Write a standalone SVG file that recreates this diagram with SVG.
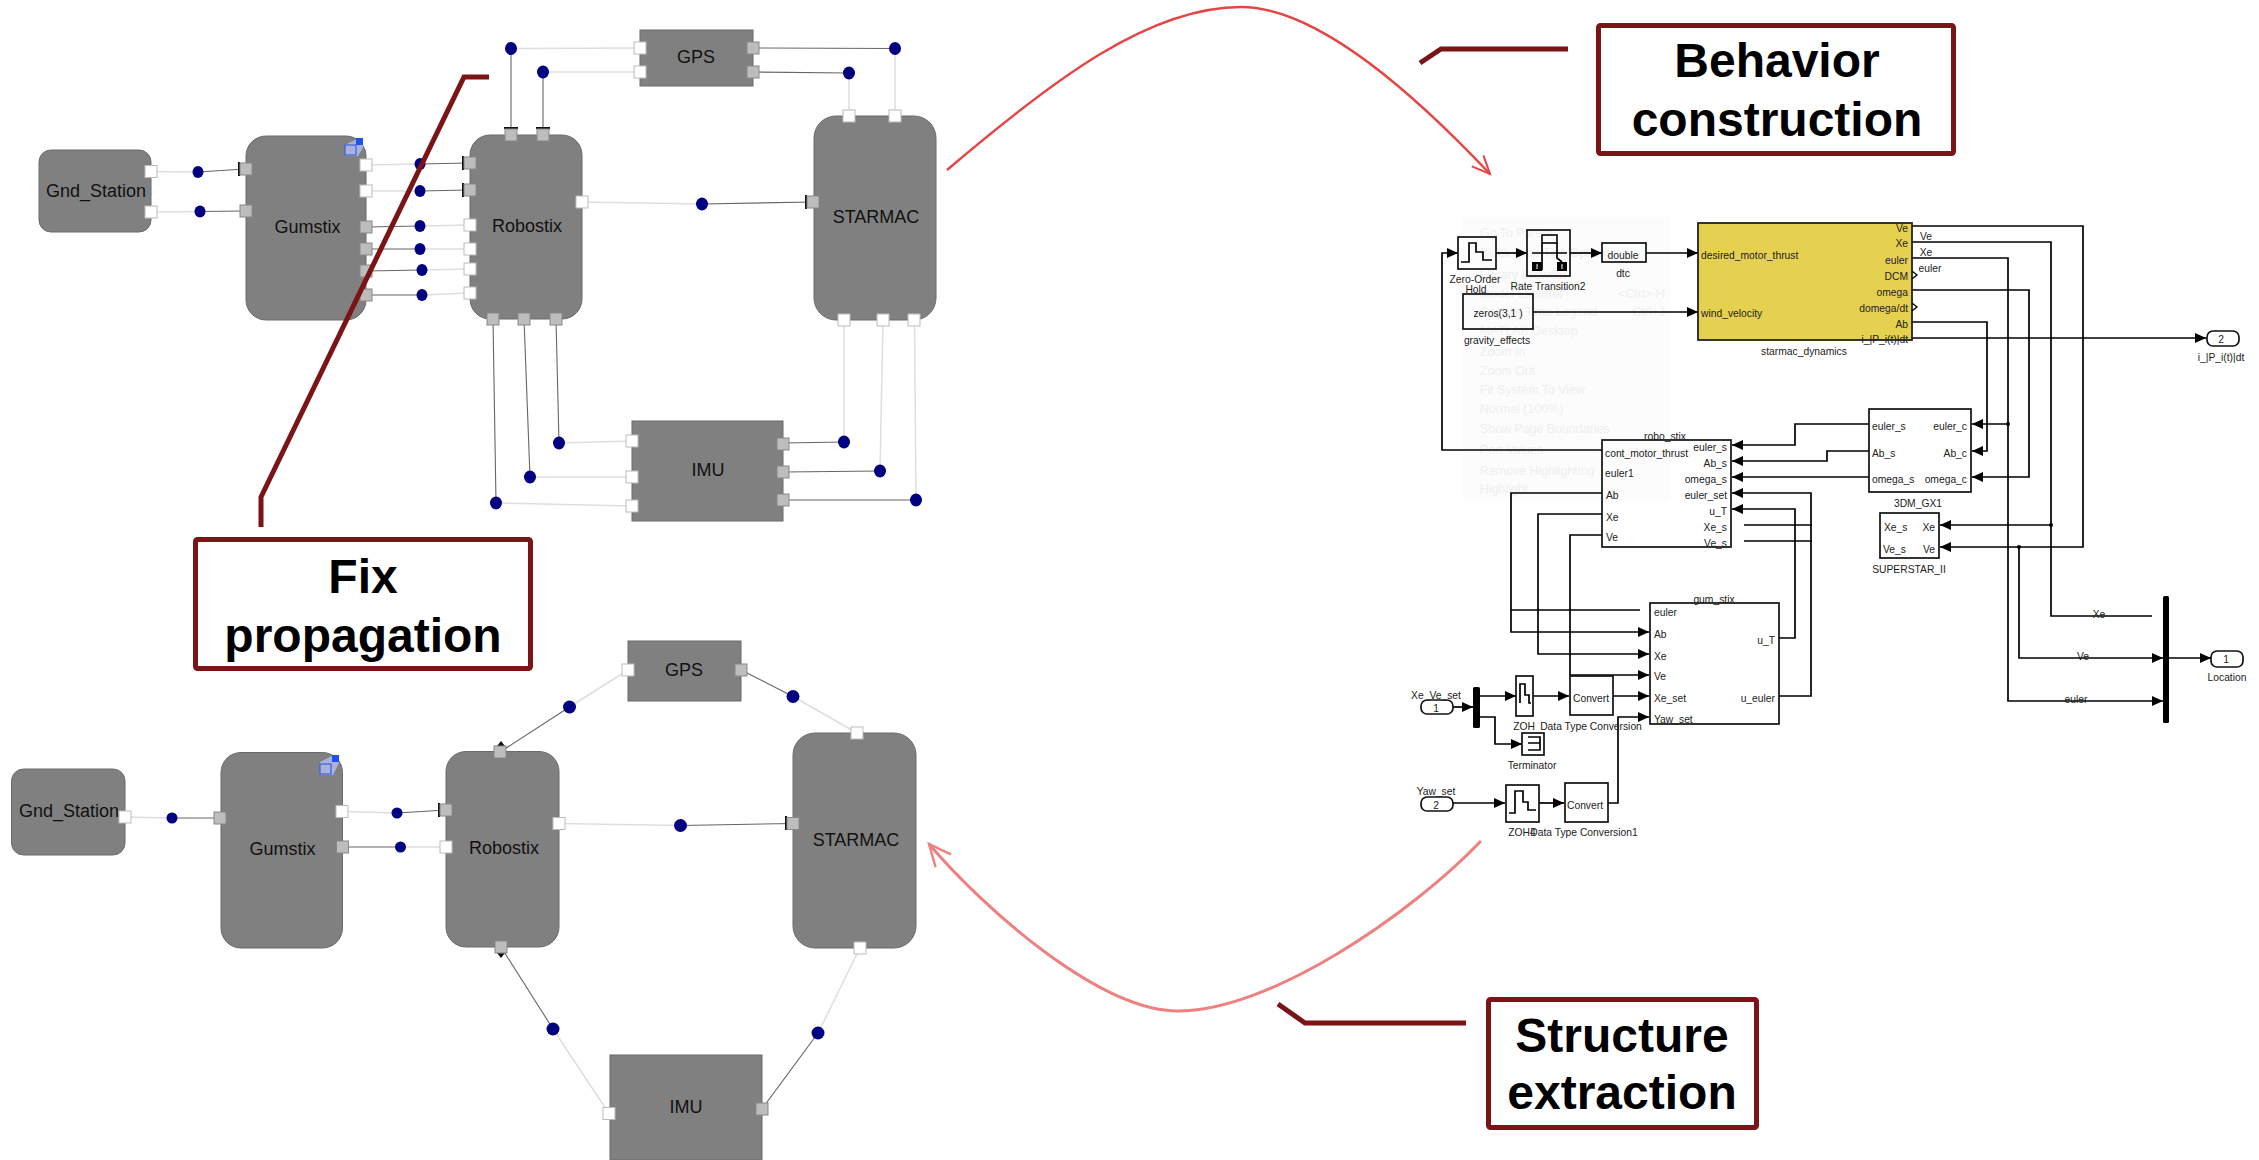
<svg xmlns="http://www.w3.org/2000/svg" width="2259" height="1160" viewBox="0 0 2259 1160">
<style>
text{font-family:"Liberation Sans",Arial,sans-serif}
.n{fill:#808080;stroke:#6a6a6a;stroke-width:1}
.t{font-size:18px;fill:#111;text-anchor:middle}
.pw{fill:#fff;stroke:#bbb;stroke-width:1}
.pg{fill:#bdbdbd;stroke:#888;stroke-width:1}
.bar{fill:#111}
.d{fill:#000080}
.lt{fill:none;stroke:#dedede;stroke-width:1.5}
.dk{fill:none;stroke:#666;stroke-width:1.1}
.w{fill:none;stroke:#000;stroke-width:1.7}
.wa{fill:none;stroke:#000;stroke-width:1.7;marker-end:url(#tri)}
.b{fill:none;stroke:#111;stroke-width:1.7}
.s{font-size:10.3px;fill:#222}
.m{text-anchor:middle}
.r{text-anchor:end}
.box{fill:#fff;stroke:#7b1416;stroke-width:5}
.big{font-size:48px;font-weight:bold;fill:#000;text-anchor:middle}
.lead{fill:none;stroke:#7b1416;stroke-width:5}
.gh{font-size:12.4px;fill:#efefef}
</style>
<defs>
<marker id="tri" markerUnits="userSpaceOnUse" markerWidth="11" markerHeight="10" refX="11" refY="5" orient="auto"><path d="M0 0L11 5L0 10Z" fill="#000"/></marker>
<marker id="ra" markerUnits="userSpaceOnUse" markerWidth="24" markerHeight="24" refX="20" refY="12" orient="auto"><path d="M2 4L20 12L2 20" fill="none" stroke="#e64545" stroke-width="2"/></marker>
<marker id="rb" markerUnits="userSpaceOnUse" markerWidth="28" markerHeight="28" refX="24" refY="14" orient="auto"><path d="M2 4L24 14L2 24" fill="none" stroke="#ee8080" stroke-width="2.4"/></marker>
</defs>
<rect width="2259" height="1160" fill="#fff"/>

<g id="menu-ghost">
<rect x="1463" y="217" width="207" height="283" fill="#fcfcfc"/>
<text class="gh" x="1480" y="237">Go To Parent</text>
<text class="gh" x="1480" y="257">Block Data Tips Options</text>
<text class="gh" x="1480" y="279">Library Browser</text>
<text class="gh" x="1480" y="298">Model Explorer</text>
<text class="gh r" x="1665" y="298">&lt;Ctrl&gt;-H</text>
<text class="gh" x="1480" y="316">Sample Time Legend</text>
<text class="gh r" x="1665" y="316">Ctrl+J</text>
<text class="gh" x="1480" y="335">MATLAB Desktop</text>
<text class="gh" x="1480" y="356">Zoom In</text>
<text class="gh" x="1480" y="375">Zoom Out</text>
<text class="gh" x="1480" y="394">Fit System To View</text>
<text class="gh" x="1480" y="413">Normal (100%)</text>
<text class="gh" x="1480" y="433">Show Page Boundaries</text>
<text class="gh" x="1480" y="454">Port Values</text>
<text class="gh" x="1480" y="475">Remove Highlighting</text>
<text class="gh" x="1480" y="493">Highlight</text>
</g>

<g id="connectors">
<!-- top graph -->
<path class="lt" d="M151 171.5L198 172M151 212L200 211.5M366 165L420 164M366 191L420 191M420 226L469 225M420 249L469 249M422 270L469 269M422 295L469 293M581 202L702 204M640 48L511 48.5M640 72L543 72M895 48.5L895 116M849 73L849 116M496 503L632 506M530 477L632 477M559 443L632 441M844 442L844 320M880 471L883 320M916 500L914.5 320"/>
<path class="dk" d="M198 172L245 169M200 211.5L245 211M420 164L469 163M420 191L469 190M366 227L420 226M366 249L420 249M366 271L422 270M366 295L422 295M702 204L813 202M511 48.5L511 134M543 72L543 134M753 48L895 48.5M753 72L849 73M493 319L496 503M524 319L530 477M556 319L559 443M783 443L844 442M783 472L880 471M783 500L916 500"/>
<!-- bottom graph -->
<path class="lt" d="M125 817L172 818M342 811.5L397 813M400.5 847L446 847M559 823.5L680.5 825.5M628 670L569.5 707M793 696.5L857 733M553 1029L609 1113.5M818 1033L860 948"/>
<path class="dk" d="M172 818L220 818M397 813L446 810M342.5 847L400.5 847M680.5 825.5L793 823.5M569.5 707L500 752M741 670L793 696.5M501 947L553 1029M762 1109L818 1033"/>
<!-- simulink wires -->
<path class="wa" d="M1602 450H1442V253H1458"/>
<path class="wa" d="M1496 253H1527"/>
<path class="wa" d="M1570 253H1602"/>
<path class="wa" d="M1646 253H1698"/>
<path class="wa" d="M1533 312H1698"/>
<path class="wa" d="M1912 226H2083V547H1940"/>
<path class="w" d="M1912 242H2051V616H2152"/>
<path class="wa" d="M2051 525H1940"/>
<path class="wa" d="M1912 258H2008V701H2163"/>
<path class="wa" d="M2008 424H1972"/>
<path class="wa" d="M1912 290H2029V477H1972"/>
<path class="wa" d="M1912 322H1987V451H1972"/>
<path class="wa" d="M1912 338H2206"/>
<path class="wa" d="M2019 547V658H2163"/>
<path class="wa" d="M2169 658H2211"/>
<path class="wa" d="M1869 424H1795V445H1732"/>
<path class="wa" d="M1869 451H1827V461H1732"/>
<path class="wa" d="M1869 477H1732"/>
<path class="wa" d="M1779 696H1811V493H1732"/>
<path class="wa" d="M1779 638H1795V509H1732"/>
<path class="w" d="M1744 525H1812M1744 541H1812"/>
<path class="wa" d="M1602 493H1511V632H1649"/>
<path class="w" d="M1511 610H1640"/>
<path class="wa" d="M1602 514H1538V654H1649"/>
<path class="wa" d="M1602 535H1570V675H1649"/>
<path class="wa" d="M1453 707H1473"/>
<path class="wa" d="M1480 696H1516"/>
<path class="wa" d="M1533 696H1569"/>
<path class="wa" d="M1613 696H1649"/>
<path class="wa" d="M1480 717H1495V744H1522"/>
<path class="wa" d="M1453 803H1505"/>
<path class="wa" d="M1539 803H1564"/>
<path class="wa" d="M1608 803H1618V717H1649"/>
<circle cx="2051" cy="525" r="2"/><circle cx="2008" cy="424" r="2"/><circle cx="2019" cy="547" r="2"/>
<!-- workflow arcs -->
<path d="M947 170C1055 78 1150 7 1241 7C1320 7 1420 100 1490 174" fill="none" stroke="#e64545" stroke-width="2.4" marker-end="url(#ra)"/>
<path d="M1481 841C1410 915 1270 1011 1178 1011C1100 1011 985 910 929 844" fill="none" stroke="#ee8080" stroke-width="3" marker-end="url(#rb)"/>
</g>

<!-- top graph nodes -->
<g id="top-gnd-station"><rect class="n" x="39" y="150" width="112" height="82" rx="12"/><text class="t" x="96" y="197">Gnd_Station</text>
<rect class="pw" x="145" y="165.500" width="12" height="12"/><rect class="pw" x="145" y="206" width="12" height="12"/><ellipse class="d" cx="198" cy="172" rx="5.500" ry="6"/><ellipse class="d" cx="200" cy="211.500" rx="5.500" ry="6"/></g>
<g id="top-gumstix"><rect class="n" x="246" y="136" width="120" height="184" rx="20"/><text class="t" x="307.500" y="233">Gumstix</text>
<path d="M345 145L359 138L364 146L358 156H345Z" fill="#a9b2dc"/><rect x="345" y="145" width="11" height="10" fill="none" stroke="#3c5fe0" stroke-width="1.200"/><rect x="356" y="138" width="7" height="7" fill="#2050f0"/>
<rect class="bar" x="238" y="162" width="2" height="14"/><rect class="pg" x="240" y="163" width="12" height="12"/><rect class="pg" x="240" y="205" width="12" height="12"/>
<rect class="pw" x="360" y="159" width="12" height="12"/><rect class="pw" x="360" y="185" width="12" height="12"/><rect class="pg" x="360" y="221" width="12" height="12"/><rect class="pg" x="360" y="243" width="12" height="12"/><rect class="pg" x="360" y="265" width="12" height="12"/><rect class="pg" x="360" y="289" width="12" height="12"/>
<ellipse class="d" cx="420" cy="164" rx="5.500" ry="6"/><ellipse class="d" cx="420" cy="191" rx="5.500" ry="6"/><ellipse class="d" cx="420" cy="226" rx="5.500" ry="6"/><ellipse class="d" cx="420" cy="249" rx="5.500" ry="6"/><ellipse class="d" cx="422" cy="270" rx="5.500" ry="6"/><ellipse class="d" cx="422" cy="295" rx="5.500" ry="6"/></g>
<g id="top-robostix"><rect class="n" x="470" y="135" width="112" height="184" rx="20"/><text class="t" x="527" y="232">Robostix</text>
<rect class="bar" x="462" y="156" width="2" height="14"/><rect class="pg" x="464" y="157" width="12" height="12"/><rect class="bar" x="462" y="183" width="2" height="14"/><rect class="pg" x="464" y="184" width="12" height="12"/>
<rect class="pw" x="464" y="219" width="12" height="12"/><rect class="pw" x="464" y="243" width="12" height="12"/><rect class="pw" x="464" y="263" width="12" height="12"/><rect class="pw" x="464" y="287" width="12" height="12"/>
<rect class="pw" x="576" y="196" width="12" height="12"/>
<rect class="bar" x="504" y="127" width="14" height="2"/><rect class="pg" x="505" y="129" width="12" height="12"/><rect class="bar" x="536" y="127" width="14" height="2"/><rect class="pg" x="537" y="129" width="12" height="12"/>
<rect class="pg" x="487" y="313" width="12" height="12"/><rect class="pg" x="518" y="313" width="12" height="12"/><rect class="pg" x="550" y="313" width="12" height="12"/>
<ellipse class="d" cx="702" cy="204" rx="6" ry="6.500"/></g>
<g id="top-gps"><rect class="n" x="640" y="30" width="113" height="56"/><text class="t" x="696" y="63">GPS</text>
<rect class="pw" x="634" y="42" width="12" height="12"/><rect class="pw" x="634" y="66" width="12" height="12"/><rect class="pg" x="747" y="42" width="12" height="12"/><rect class="pg" x="747" y="66" width="12" height="12"/>
<ellipse class="d" cx="511" cy="48.500" rx="6" ry="6.500"/><ellipse class="d" cx="543" cy="72" rx="6" ry="6.500"/><ellipse class="d" cx="895" cy="48.500" rx="6" ry="6.500"/><ellipse class="d" cx="849" cy="73" rx="6" ry="6.500"/></g>
<g id="top-starmac"><rect class="n" x="814" y="116" width="122" height="204" rx="22"/><text class="t" x="876" y="223">STARMAC</text>
<rect class="pw" x="843" y="110" width="12" height="12"/><rect class="pw" x="889" y="110" width="12" height="12"/><rect class="pw" x="838" y="314" width="12" height="12"/><rect class="pw" x="877" y="314" width="12" height="12"/><rect class="pw" x="908" y="314" width="12" height="12"/>
<rect class="bar" x="805" y="195" width="2" height="14"/><rect class="pg" x="807" y="196" width="12" height="12"/></g>
<g id="top-imu"><rect class="n" x="632" y="421" width="151" height="100"/><text class="t" x="708" y="476">IMU</text>
<rect class="pw" x="626" y="435" width="12" height="12"/><rect class="pw" x="626" y="471" width="12" height="12"/><rect class="pw" x="626" y="500" width="12" height="12"/>
<rect class="pg" x="777" y="438" width="12" height="12"/><rect class="pg" x="777" y="466" width="12" height="12"/><rect class="pg" x="777" y="494" width="12" height="12"/>
<ellipse class="d" cx="559" cy="443" rx="6" ry="6.500"/><ellipse class="d" cx="530" cy="477" rx="6" ry="6.500"/><ellipse class="d" cx="496" cy="503" rx="6" ry="6.500"/><ellipse class="d" cx="844" cy="442" rx="6" ry="6.500"/><ellipse class="d" cx="880" cy="471" rx="6" ry="6.500"/><ellipse class="d" cx="916" cy="500" rx="6" ry="6.500"/></g>

<!-- bottom graph nodes -->
<g id="bot-gnd-station"><rect class="n" x="11.500" y="769" width="113.500" height="86" rx="12"/><text class="t" x="69" y="817">Gnd_Station</text><rect class="pw" x="119" y="811" width="12" height="12"/><ellipse class="d" cx="172" cy="818" rx="5.500" ry="5.500"/></g>
<g id="bot-gumstix"><rect class="n" x="221" y="752.500" width="121.500" height="195.500" rx="20"/><text class="t" x="282.500" y="855">Gumstix</text>
<path d="M320 762L334 755L339 763L333 775H320Z" fill="#a9b2dc"/><rect x="320" y="764" width="11" height="10" fill="none" stroke="#3c5fe0" stroke-width="1.200"/><rect x="332" y="755" width="7" height="7" fill="#2050f0"/>
<rect class="pg" x="214" y="812" width="12" height="12"/><rect class="pw" x="336" y="805.500" width="12" height="12"/><rect class="pg" x="336.500" y="841" width="12" height="12"/>
<ellipse class="d" cx="397" cy="813" rx="5.500" ry="5.500"/><ellipse class="d" cx="400.500" cy="847" rx="5.500" ry="5.500"/></g>
<g id="bot-robostix"><rect class="n" x="446" y="751.500" width="113" height="195.500" rx="20"/><text class="t" x="504" y="854">Robostix</text>
<rect class="bar" x="438" y="803" width="2" height="14"/><rect class="pg" x="440" y="804" width="12" height="12"/><rect class="pw" x="440" y="841" width="12" height="12"/><rect class="pw" x="553" y="817.500" width="12" height="12"/>
<path d="M497 746L501 741L505 746Z" fill="#111"/><rect class="pg" x="494" y="746" width="12" height="12"/><path d="M497 953L501 958L505 953Z" fill="#111"/><rect class="pg" x="495" y="941" width="12" height="12"/>
<ellipse class="d" cx="680.500" cy="825.500" rx="6.500" ry="6.500"/></g>
<g id="bot-gps"><rect class="n" x="628" y="641" width="113" height="60"/><text class="t" x="684" y="676">GPS</text><rect class="pw" x="622" y="664" width="12" height="12"/><rect class="pg" x="735" y="664" width="12" height="12"/><ellipse class="d" cx="569.500" cy="707" rx="6.500" ry="6.500"/><ellipse class="d" cx="793" cy="696.500" rx="6.500" ry="6.500"/></g>
<g id="bot-starmac"><rect class="n" x="793" y="733" width="123" height="215" rx="22"/><text class="t" x="856" y="846">STARMAC</text><rect class="pw" x="851" y="727" width="12" height="12"/><rect class="pw" x="854" y="942" width="12" height="12"/><rect class="bar" x="785" y="816" width="2" height="14"/><rect class="pg" x="787" y="817.500" width="12" height="12"/></g>
<g id="bot-imu"><rect class="n" x="610" y="1055" width="152" height="105"/><text class="t" x="686" y="1113">IMU</text><rect class="pw" x="603" y="1107.500" width="12" height="12"/><rect class="pg" x="756" y="1103" width="12" height="12"/><ellipse class="d" cx="553" cy="1029" rx="6.500" ry="6.500"/><ellipse class="d" cx="818" cy="1033" rx="6.500" ry="6.500"/></g>

<!-- simulink blocks -->
<g id="zero-order-hold"><rect class="b" x="1458" y="237" width="38" height="32"/><path class="w" d="M1461 262H1469V243H1476V252H1483V260H1492"/><text class="s m" x="1475" y="283">Zero-Order</text><text class="s m" x="1476" y="293">Hold</text></g>
<g id="rate-transition2"><rect class="b" x="1527" y="230" width="43" height="46"/><rect class="b" x="1542" y="235" width="15" height="8"/><path class="w" d="M1532 253H1567M1542 243V270M1557 243V258L1562 262"/><rect x="1532" y="262" width="10" height="9"/><rect x="1557" y="262" width="10" height="9"/><path d="M1537 264V269M1562 264V269" stroke="#fff" stroke-width="1"/><text class="s m" x="1548" y="290">Rate Transition2</text></g>
<g id="dtc"><rect class="b" x="1602" y="243" width="44" height="19"/><text class="s m" x="1623" y="259">double</text><text class="s m" x="1623" y="277">dtc</text></g>
<g id="gravity-effects"><rect class="b" x="1463" y="294" width="70" height="35"/><text class="s m" x="1498" y="317">zeros(3,1 )</text><text class="s m" x="1497" y="344">gravity_effects</text></g>
<g id="starmac-dynamics"><rect x="1698" y="223" width="214" height="117" fill="#e6d04f" stroke="#222" stroke-width="1.800"/>
<text class="s" x="1701" y="259">desired_motor_thrust</text><text class="s" x="1701" y="317">wind_velocity</text>
<text class="s r" x="1908" y="232">Ve</text><text class="s r" x="1908" y="247">Xe</text><text class="s r" x="1908" y="264">euler</text><text class="s r" x="1908" y="280">DCM</text><text class="s r" x="1908" y="296">omega</text><text class="s r" x="1908" y="312">domega/dt</text><text class="s r" x="1908" y="328">Ab</text><text class="s r" x="1908" y="343">i_|P_i(t)|dt</text>
<path fill="none" stroke="#000" stroke-width="1.300" d="M1912 271L1917 275L1912 279M1912 303L1917 307L1912 311"/>
<text class="s m" x="1804" y="355">starmac_dynamics</text>
<text class="s m" x="1926" y="240">Ve</text><text class="s m" x="1926" y="256">Xe</text><text class="s m" x="1930" y="272">euler</text></g>
<g id="outport-2"><rect class="b" x="2207" y="331" width="32" height="15" rx="6"/><text class="s m" x="2221" y="343">2</text><text class="s m" x="2221" y="361">i_|P_i(t)|dt</text></g>
<g id="gx1"><rect class="b" x="1869" y="409" width="102" height="83"/>
<text class="s" x="1872" y="430">euler_s</text><text class="s" x="1872" y="457">Ab_s</text><text class="s" x="1872" y="483">omega_s</text>
<text class="s r" x="1967" y="430">euler_c</text><text class="s r" x="1967" y="457">Ab_c</text><text class="s r" x="1967" y="483">omega_c</text>
<text class="s m" x="1918" y="507">3DM_GX1</text></g>
<g id="superstar"><rect class="b" x="1880" y="513" width="59" height="45"/>
<text class="s" x="1884" y="531">Xe_s</text><text class="s" x="1883" y="553">Ve_s</text><text class="s r" x="1935" y="531">Xe</text><text class="s r" x="1935" y="553">Ve</text>
<text class="s m" x="1909" y="573">SUPERSTAR_II</text></g>
<g id="robo-stix"><rect class="b" x="1602" y="440" width="129" height="107"/>
<text class="s m" x="1665" y="440">robo_stix</text>
<text class="s" x="1605" y="457">cont_motor_thrust</text><text class="s" x="1605" y="477">euler1</text><text class="s" x="1606" y="499">Ab</text><text class="s" x="1606" y="521">Xe</text><text class="s" x="1606" y="541">Ve</text>
<text class="s r" x="1727" y="451">euler_s</text><text class="s r" x="1727" y="467">Ab_s</text><text class="s r" x="1727" y="483">omega_s</text><text class="s r" x="1727" y="499">euler_set</text><text class="s r" x="1727" y="515">u_T</text><text class="s r" x="1727" y="531">Xe_s</text><text class="s r" x="1727" y="547">Ve_s</text></g>
<g id="gum-stix"><rect class="b" x="1650" y="603" width="129" height="121"/>
<text class="s m" x="1714" y="603">gum_stix</text>
<text class="s" x="1654" y="616">euler</text><text class="s" x="1654" y="638">Ab</text><text class="s" x="1654" y="660">Xe</text><text class="s" x="1654" y="680">Ve</text><text class="s" x="1654" y="702">Xe_set</text><text class="s" x="1654" y="723">Yaw_set</text>
<text class="s r" x="1775" y="644">u_T</text><text class="s r" x="1775" y="702">u_euler</text></g>
<g id="inport-1"><rect class="b" x="1421" y="700" width="32" height="14" rx="6"/><text class="s m" x="1436" y="712">1</text><text class="s m" x="1436" y="699">Xe_Ve_set</text></g>
<g id="mux-in"><rect x="1473" y="687" width="7" height="41" rx="1.500"/></g>
<g id="zoh"><rect class="b" x="1516" y="676" width="17" height="40"/><path class="w" stroke-width="1.200" d="M1520 703V684H1525V695H1529V703H1531"/><text class="s m" x="1524" y="730">ZOH</text></g>
<g id="convert"><rect class="b" x="1570" y="676" width="43" height="39"/><text class="s m" x="1591" y="702">Convert</text><text class="s m" x="1591" y="730">Data Type Conversion</text></g>
<g id="terminator"><rect class="b" x="1522" y="733" width="22" height="22"/><path class="w" stroke-width="1.200" d="M1528 737H1540V750H1528M1528 743H1540"/><text class="s m" x="1532" y="769">Terminator</text></g>
<g id="inport-2"><rect class="b" x="1421" y="797" width="32" height="14" rx="6"/><text class="s m" x="1436" y="809">2</text><text class="s m" x="1436" y="795">Yaw_set</text></g>
<g id="zoh4"><rect class="b" x="1506" y="785" width="33" height="37"/><path class="w" d="M1509 813H1515V791H1523V802H1528V810H1536"/><text class="s m" x="1522" y="836">ZOH4</text></g>
<g id="convert1"><rect class="b" x="1565" y="783" width="43" height="39"/><text class="s m" x="1585" y="809">Convert</text><text class="s m" x="1584" y="836">Data Type Conversion1</text></g>
<g id="mux-out"><rect x="2163" y="596" width="6" height="127" rx="1.500"/><text class="s m" x="2099" y="618">Xe</text><text class="s m" x="2083" y="660">Ve</text><text class="s m" x="2076" y="703">euler</text></g>
<g id="outport-1"><rect class="b" x="2211" y="651" width="32" height="16" rx="6"/><text class="s m" x="2226" y="663">1</text><text class="s m" x="2227" y="681">Location</text></g>

<!-- callouts -->
<g id="callout-leaders">
<path class="lead" d="M489 77H464L261 497V527"/>
<path class="lead" d="M1568 49H1441L1420 63"/>
<path class="lead" d="M1466 1023H1305L1278 1004"/>
</g>
<g id="fix-propagation"><rect class="box" x="195.500" y="539.500" width="335" height="129" rx="2"/><text class="big" x="363" y="593">Fix</text><text class="big" x="363" y="652">propagation</text></g>
<g id="behavior-construction"><rect class="box" x="1598.500" y="25.500" width="355" height="128" rx="2"/><text class="big" x="1777" y="77">Behavior</text><text class="big" x="1777" y="136">construction</text></g>
<g id="structure-extraction"><rect class="box" x="1488.500" y="999.500" width="268" height="128" rx="2"/><text class="big" x="1622" y="1052">Structure</text><text class="big" x="1622" y="1109">extraction</text></g>
</svg>
